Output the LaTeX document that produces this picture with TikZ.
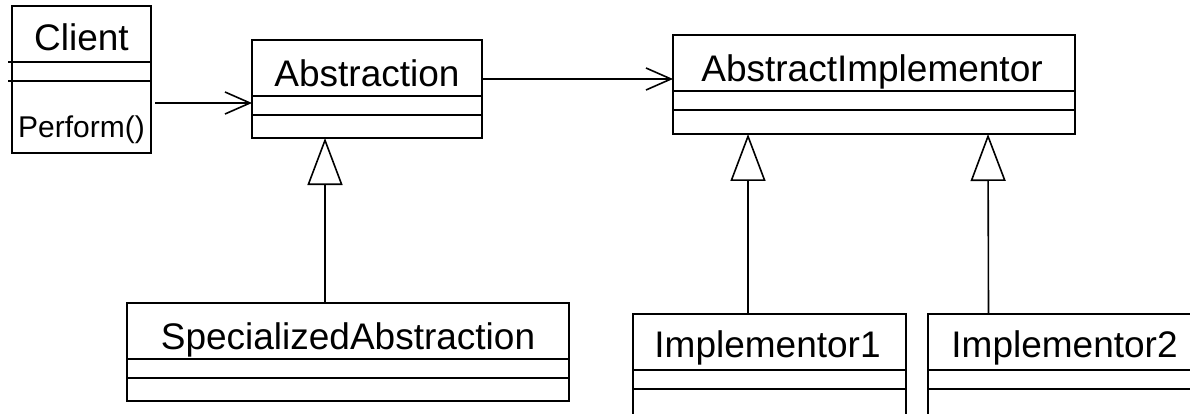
\documentclass[tikz,border=0pt]{standalone}
\usepackage{fontspec}
\setmainfont{Liberation Sans}
\usetikzlibrary{arrows.meta}

\tikzset{
  cls/.style={draw, rectangle, line width=1.6pt, inner sep=0pt, outer sep=0pt, anchor=north west},
  clsname/.style={anchor=base, inner sep=0pt, font=\fontsize{37}{44}\selectfont},
  opname/.style={anchor=base, inner sep=0pt, font=\fontsize{30}{36}\selectfont},
  sep/.style={line width=1.6pt},
  assoc/.style={line width=1.6pt, -{Straight Barb[length=25pt, width=22pt, line width=1.6pt]}},
  inherit/.style={line width=1.6pt, -{Triangle[open, length=47pt, width=35pt, line width=1.6pt]}},
}

% draw the two compartment separators of a class box
\newcommand{\compartments}[2][0pt]{%
  \draw[sep] ([xshift=-#1, yshift=-56pt]#2.north west) -- ([yshift=-56pt]#2.north east);
  \draw[sep] ([xshift=-#1, yshift=-75pt]#2.north west) -- ([yshift=-75pt]#2.north east);
}

\begin{document}
\begin{tikzpicture}[x=1pt, y=-1pt]
  \useasboundingbox (0,0) rectangle (1190,414);
  \clip (0,0) rectangle (1190,414);
  \fill[white] (0,0) rectangle (1190,414);

  % class boxes
  \node[cls, minimum width=139pt, minimum height=147pt] (client) at (12,6) {};
  \node[cls, minimum width=230pt, minimum height=98pt]  (abs)    at (252,40) {};
  \node[cls, minimum width=402pt, minimum height=99pt]  (impl)   at (673,35) {};
  \node[cls, minimum width=442pt, minimum height=98pt]  (spec)   at (127,303) {};
  \node[cls, minimum width=273pt, minimum height=102pt] (imp1)   at (633,314) {};
  \node[cls, minimum width=273pt, minimum height=102pt] (imp2)   at (928,314) {};

  \compartments[4pt]{client}
  \compartments{abs}
  \compartments{impl}
  \compartments{spec}
  \compartments{imp1}
  \compartments{imp2}

  % class names and operations
  \node[clsname] (clientname) at ([yshift=-45pt]client.north) {Client};
  \node[opname]  (clientop)   at ([yshift=15pt]client.south) {Perform()};
  \node[clsname] (absname)    at ([yshift=-47pt]abs.north) {Abstraction};
  \node[clsname] (implname)   at ([xshift=-2pt, yshift=-47pt]impl.north) {AbstractImplementor};
  \node[clsname] (specname)   at ([yshift=-46pt]spec.north) {SpecializedAbstraction};
  \node[clsname] (imp1name)   at ([xshift=-2pt, yshift=-43pt]imp1.north) {Implementor1};
  \node[clsname] (imp2name)   at ([yshift=-43pt]imp2.north) {Implementor2};

  % associations
  \coordinate (ca) at ([yshift=-23.5pt]client.east);
  \draw[assoc, shorten <=4pt] (ca) -- (ca -| abs.west);
  \coordinate (aa) at ([yshift=10pt]abs.east);
  \draw[assoc] (aa) -- (aa -| impl.west);

  % generalizations
  \draw[inherit] ([xshift=-23pt]spec.north) -- ([xshift=-42pt]abs.south);
  \draw[inherit] ([xshift=-21.5pt]imp1.north) -- ([xshift=-126pt]impl.south);
  \draw[inherit] ([xshift=-76pt]imp2.north) -- ([xshift=114pt]impl.south);
\end{tikzpicture}
\end{document}
